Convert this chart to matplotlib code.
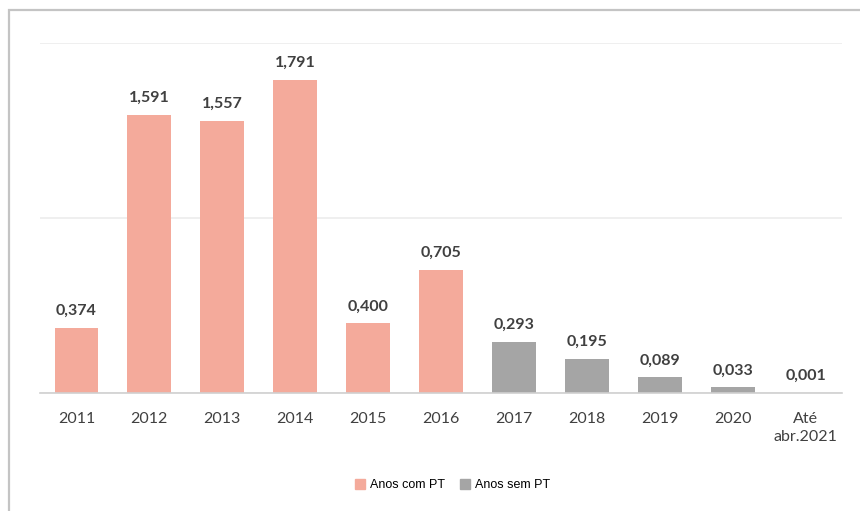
import matplotlib
matplotlib.use('Agg')
import matplotlib.pyplot as plt
from matplotlib.patches import Rectangle, Patch

# valores por ano
anos = ['2011', '2012', '2013', '2014', '2015', '2016', '2017', '2018', '2019', '2020', 'Até\nabr.2021']
valores = [0.374, 1.591, 1.557, 1.791, 0.400, 0.705, 0.293, 0.195, 0.089, 0.033, 0.001]
com_pt = [True, True, True, True, True, True, False, False, False, False, False]

cor_pt = '#f4aa9b'
cor_sem = '#a5a5a5'

plt.rcParams['font.family'] = ['Lato', 'DejaVu Sans']

fig = plt.figure(figsize=(8.6, 5.11), dpi=100)
ax = fig.add_axes([40 / 860, 1 - 393 / 511, 802 / 860, 350 / 511])

# moldura em volta do gráfico
fig.patches.append(Rectangle((9 / 860, -0.1), 1.2, 1.1 - 10 / 511,
                             transform=fig.transFigure, fill=False,
                             edgecolor='#c4c4c4', linewidth=1.6))

x = list(range(len(anos)))
cores = [cor_pt if c else cor_sem for c in com_pt]
ax.bar(x, valores, width=0.6, color=cores, zorder=2)

for xi, v in zip(x, valores):
    ax.text(xi, v + 0.055, f'{v:.3f}'.replace('.', ','), ha='center', va='bottom',
            fontsize=11.5, fontweight='bold', color='#404040')

ax.set_xlim(-0.5, len(anos) - 0.5)
ax.set_ylim(0, 2.0)
ax.set_yticks([0, 1, 2])
ax.yaxis.grid(True, color='#ececec', linewidth=1.2, zorder=0)
ax.tick_params(axis='y', left=False, labelleft=False)
ax.tick_params(axis='x', length=0, pad=14)
ax.set_xticks(x)
ax.set_xticklabels(anos, fontsize=11.5, color='#404040', linespacing=1.3)
for s in ['top', 'right', 'left']:
    ax.spines[s].set_visible(False)
ax.spines['bottom'].set_color('#d0d0d0')
ax.spines['bottom'].set_linewidth(1.2)

handles = [Patch(color=cor_pt, label='Anos com PT'),
           Patch(color=cor_sem, label='Anos sem PT')]
fig.legend(handles=handles, loc='center', bbox_to_anchor=(453 / 860, 1 - 485 / 511),
           ncol=2, frameon=False, prop={'family': 'Liberation Sans', 'size': 9},
           handlelength=0.8, handleheight=0.8, handletextpad=0.4, columnspacing=1.2)

fig.savefig('out.png', dpi=100, facecolor='white')
